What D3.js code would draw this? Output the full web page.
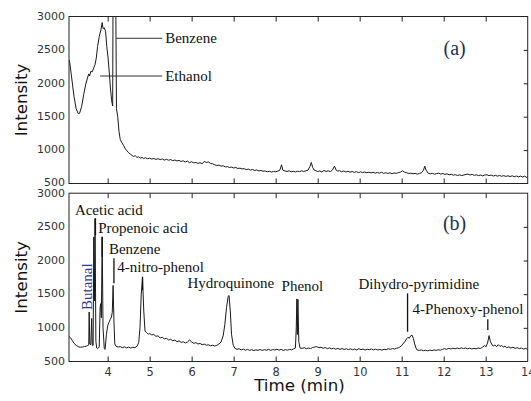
<!DOCTYPE html>
<html>
<head>
<meta charset="utf-8">
<script src="https://cdn.jsdelivr.net/npm/d3@7"></script>
<style>
  html, body { margin: 0; padding: 0; background: #fff; }
  svg { display: block; }
</style>
</head>
<body>
<script>
// ---------------- DATA ----------------
const xTicks = [4, 5, 6, 7, 8, 9, 10, 11, 12, 13, 14];
const yTicks = [500, 1000, 1500, 2000, 2500, 3000];
const rightTicks = [1000, 1500, 2000, 2500];

// Panel (a)
const timeA = [3.08,3.10,3.15,3.20,3.25,3.30,3.33,3.38,3.43,3.48,3.52,3.55,3.57,3.60,3.63,3.67,3.70,3.73,3.76,3.80,3.84,3.87,3.89,3.92,3.95,3.98,4.01,4.04,4.07,4.10,4.12,4.13,4.19,4.21,4.24,4.27,4.30,4.34,4.38,4.42,4.46,4.50,4.54,4.58,4.62,4.66,4.70,4.74,4.78,4.82,4.86,4.90,4.95,5.00,5.05,5.10,5.15,5.20,5.25,5.30,5.35,5.40,5.45,5.50,5.55,5.60,5.65,5.70,5.75,5.80,5.85,5.90,5.95,6.00,6.05,6.10,6.15,6.20,6.25,6.30,6.35,6.40,6.45,6.50,6.55,6.60,6.65,6.70,6.75,6.80,6.85,6.90,6.95,7.00,7.05,7.10,7.15,7.20,7.25,7.30,7.35,7.40,7.45,7.50,7.55,7.60,7.65,7.70,7.75,7.80,7.85,7.90,7.95,8.00,8.05,8.10,8.14,8.17,8.22,8.27,8.32,8.37,8.42,8.47,8.52,8.57,8.62,8.67,8.72,8.77,8.82,8.85,8.88,8.92,8.96,9.00,9.05,9.10,9.15,9.20,9.25,9.30,9.35,9.40,9.44,9.48,9.52,9.57,9.62,9.67,9.72,9.77,9.82,9.87,9.92,9.97,10.02,10.07,10.12,10.17,10.22,10.27,10.32,10.37,10.42,10.47,10.52,10.57,10.62,10.67,10.72,10.77,10.82,10.87,10.92,10.97,11.02,11.07,11.12,11.17,11.22,11.27,11.32,11.37,11.42,11.47,11.52,11.55,11.58,11.63,11.68,11.73,11.78,11.83,11.88,11.93,11.98,12.03,12.08,12.13,12.18,12.23,12.28,12.33,12.38,12.43,12.48,12.53,12.58,12.63,12.68,12.73,12.78,12.83,12.88,12.93,12.98,13.03,13.08,13.13,13.18,13.23,13.28,13.33,13.38,13.43,13.48,13.53,13.58,13.63,13.68,13.73,13.78,13.83,13.88,13.93,13.98,14.00];
const intensityA = [2350,2300,2050,1800,1620,1545,1550,1650,1830,1990,2080,2140,2110,2180,2170,2230,2280,2380,2550,2700,2800,2910,2820,2830,2780,2550,2380,2150,1900,1720,1660,3600,3600,1620,1500,1280,1160,1110,1070,1020,990,960,940,920,905,915,890,900,880,890,875,885,870,880,865,875,860,872,858,868,850,862,848,858,842,852,838,845,830,840,822,835,812,825,808,815,800,812,795,830,815,822,800,795,780,770,775,760,765,748,752,740,745,732,740,725,730,718,722,708,715,700,710,695,703,688,695,683,688,675,682,672,680,676,685,700,780,700,688,680,690,675,683,672,685,678,690,680,690,700,760,815,740,700,690,680,688,672,695,680,690,678,700,760,700,685,692,676,688,672,684,670,680,665,678,662,675,663,672,660,670,658,668,655,665,655,668,652,662,650,660,648,658,652,662,670,690,670,660,650,655,645,652,640,650,660,700,760,700,655,645,652,640,648,655,640,650,636,645,630,638,625,632,620,630,618,628,635,640,628,636,622,630,618,626,614,628,630,618,626,612,622,610,620,608,618,606,616,604,615,603,612,600,610,598,610,590,605];

// Panel (b)
const timeB = [3.08,3.12,3.16,3.20,3.25,3.30,3.35,3.40,3.45,3.50,3.53,3.55,3.56,3.575,3.60,3.62,3.635,3.655,3.67,3.685,3.70,3.72,3.74,3.76,3.78,3.80,3.82,3.835,3.85,3.87,3.89,3.92,3.94,3.97,4.00,4.03,4.06,4.09,4.11,4.13,4.15,4.17,4.20,4.25,4.30,4.35,4.40,4.45,4.50,4.55,4.60,4.65,4.70,4.74,4.77,4.80,4.83,4.86,4.89,4.93,4.97,5.00,5.05,5.10,5.15,5.20,5.25,5.30,5.35,5.40,5.45,5.50,5.55,5.60,5.65,5.70,5.75,5.80,5.85,5.90,5.95,6.00,6.05,6.10,6.15,6.20,6.25,6.30,6.35,6.40,6.45,6.50,6.55,6.60,6.65,6.70,6.75,6.79,6.83,6.87,6.89,6.92,6.95,6.99,7.03,7.08,7.13,7.18,7.23,7.28,7.33,7.38,7.43,7.48,7.53,7.58,7.63,7.68,7.73,7.78,7.83,7.88,7.93,7.98,8.03,8.08,8.13,8.18,8.23,8.28,8.33,8.38,8.43,8.47,8.49,8.505,8.515,8.53,8.55,8.58,8.63,8.68,8.73,8.78,8.83,8.88,8.93,8.98,9.03,9.08,9.13,9.18,9.23,9.28,9.33,9.38,9.43,9.48,9.53,9.58,9.63,9.68,9.73,9.78,9.83,9.88,9.93,9.98,10.03,10.08,10.13,10.18,10.23,10.28,10.33,10.38,10.43,10.48,10.53,10.58,10.63,10.68,10.73,10.78,10.83,10.88,10.93,10.98,11.03,11.08,11.12,11.15,11.18,11.22,11.25,11.28,11.31,11.34,11.37,11.42,11.47,11.52,11.57,11.62,11.67,11.72,11.77,11.82,11.87,11.92,11.97,12.02,12.07,12.12,12.17,12.22,12.27,12.32,12.37,12.42,12.47,12.52,12.57,12.62,12.67,12.72,12.77,12.82,12.87,12.92,12.97,13.01,13.05,13.08,13.11,13.14,13.18,13.22,13.26,13.30,13.34,13.38,13.42,13.46,13.50,13.55,13.60,13.65,13.70,13.75,13.80,13.85,13.90,13.95,14.00];
const intensityB = [870,850,810,770,740,720,712,715,722,730,740,745,1235,760,750,1140,740,740,2350,1400,2620,800,700,690,700,720,1300,1360,1150,2350,1000,690,680,900,1030,1080,1120,1160,1230,1630,1100,760,725,715,720,705,718,702,715,700,712,705,730,780,1000,1500,1740,1250,950,930,905,915,895,900,875,880,850,860,835,845,820,830,808,818,795,805,785,792,775,790,820,790,770,780,760,768,750,758,742,748,735,742,730,740,760,790,880,1050,1300,1470,1480,1250,900,740,695,680,690,672,684,668,680,665,676,662,674,666,678,664,676,668,680,666,678,670,682,668,680,665,676,668,680,672,690,700,1000,1430,900,1420,800,700,695,705,690,700,692,708,715,720,705,712,696,708,690,702,688,698,682,695,680,692,678,690,676,688,674,686,672,690,676,685,670,682,675,686,672,684,670,680,668,682,676,690,680,692,685,698,705,725,760,800,840,860,845,885,890,840,760,700,670,665,672,660,668,658,670,662,672,665,675,668,680,690,682,695,685,698,688,700,690,702,692,700,688,698,686,696,688,700,692,710,735,720,790,885,800,760,730,745,720,750,725,735,715,728,705,718,700,712,695,705,690,700,685,695,680];

// Annotations: label text, anchor time/intensity, leader line (time, from, to)
const labelNamesA = ["Benzene", "Ethanol"];
const labelTimesA = [5.37, 5.37];
const labelLevelsA = [2674, 2109];
const leaderStartA = [4.20, 3.82];
const leaderEndA = [5.30, 5.30];

const labelNamesB = ["Acetic acid", "Propenoic acid", "Benzene", "4-nitro-phenol", "Hydroquinone", "Phenol", "Dihydro-pyrimidine", "4-Phenoxy-phenol"];
const labelTimesB = [3.22, 3.776, 4.03, 4.23, 5.90, 8.14, 9.97, 11.26];
const labelLevelsB = [2676, 2404, 2097, 1833, 1587, 1547, 1572, 1200];
const leaderTimesB = [3.71, 3.87, 4.15, 4.83, null, null, 11.14, 13.05];
const leaderTopB = [2630, 2354, 2033, 1759, null, null, 1512, 1126];
const leaderBottomB = [2378, 2056, 1661, 1561, null, null, 942, 967];

const rotatedLabelB = { name: "Butanal", time: 3.62, level: 1611 };
const panelTags = ["(a)", "(b)"];
const panelTagTime = 12.26;
const panelTagLevels = [2424, 2453];

// ---------------- LAYOUT ----------------
const W = 531, H = 401;
const left = 69, right = 527.7;
const panels = [
  { top: 16.5, bottom: 183.5, time: timeA, inten: intensityA },
  { top: 193.2, bottom: 361.5, time: timeB, inten: intensityB }
];

const svg = d3.select("body").append("svg")
  .attr("width", W).attr("height", H)
  .attr("viewBox", `0 0 ${W} ${H}`);

const x = d3.scaleLinear().domain([3.08, 14]).range([left, right]);

const sans = "'DejaVu Sans', Verdana, sans-serif";
const serif = "'Liberation Serif', 'Times New Roman', serif";

panels.forEach((p, i) => {
  const y = d3.scaleLinear().domain([500, 3000]).range([p.bottom, p.top]);
  p.y = y;

  const clipId = "clip" + i;
  svg.append("clipPath").attr("id", clipId)
    .append("rect")
    .attr("x", left).attr("y", p.top)
    .attr("width", right - left).attr("height", p.bottom - p.top);

  // trace
  const line = d3.line().x((d, k) => x(p.time[k])).y((d, k) => y(d));
  svg.append("path")
    .datum(p.inten)
    .attr("clip-path", `url(#${clipId})`)
    .attr("d", line)
    .attr("fill", "none")
    .attr("stroke", "#1a1a1a")
    .attr("stroke-width", 1)
    .attr("stroke-linejoin", "round");

  // frame
  svg.append("rect")
    .attr("x", left).attr("y", p.top)
    .attr("width", right - left).attr("height", p.bottom - p.top)
    .attr("fill", "none").attr("stroke", "#222").attr("stroke-width", 1);

  // inward x ticks on top & bottom edges
  const innerX = xTicks.filter(t => t < 14);
  const bottomAxis = d3.axisBottom(x).tickValues(innerX).tickSizeInner(-5).tickSizeOuter(0).tickFormat("");
  const topAxis = d3.axisTop(x).tickValues(innerX).tickSizeInner(-5).tickSizeOuter(0).tickFormat("");
  const gb = svg.append("g").attr("transform", `translate(0,${p.bottom})`).call(bottomAxis);
  const gt = svg.append("g").attr("transform", `translate(0,${p.top})`).call(topAxis);
  [gb, gt].forEach(g => { g.select(".domain").remove(); g.selectAll("line").attr("stroke", "#222"); });

  // right inward ticks
  const ra = d3.axisRight(y).tickValues(rightTicks).tickSizeInner(-4).tickSizeOuter(0).tickFormat("");
  const gr = svg.append("g").attr("transform", `translate(${right},0)`).call(ra);
  gr.select(".domain").remove();
  gr.selectAll("line").attr("stroke", "#222");

  // left labels
  const la = d3.axisLeft(y).tickValues(yTicks).tickSize(0).tickPadding(4).tickFormat(d3.format("d"));
  const gl = svg.append("g").attr("transform", `translate(${left},0)`).call(la);
  gl.select(".domain").remove();
  gl.selectAll("text")
    .attr("font-family", sans).attr("font-size", 11).attr("fill", "#333")
    .attr("dy", d => (i === 0 && d === 500) ? "0.15em" : (i === 1 && d === 3000 ? "0.3em" : "0.25em"));

  // y title
  svg.append("text")
    .attr("transform", `translate(27,${(p.top + p.bottom) / 2}) rotate(-90)`)
    .attr("text-anchor", "middle")
    .attr("font-family", sans).attr("font-size", 16.7).attr("fill", "#111")
    .text("Intensity");

  // panel tag
  svg.append("text")
    .attr("x", x(panelTagTime)).attr("y", y(panelTagLevels[i]))
    .attr("text-anchor", "middle")
    .attr("font-family", serif).attr("font-size", 20).attr("fill", "#22304f")
    .text(panelTags[i]);
});

// bottom x labels
const xa = d3.axisBottom(x).tickValues(xTicks).tickSize(0).tickPadding(0).tickFormat(d3.format("d"));
const gx = svg.append("g").attr("transform", `translate(0,${panels[1].bottom})`).call(xa);
gx.select(".domain").remove();
gx.selectAll("text").attr("font-family", sans).attr("font-size", 11.4).attr("fill", "#333")
  .attr("y", 0).attr("dy", 0).attr("transform", "translate(0,14.5)");

svg.append("text")
  .attr("x", 299.5).attr("y", 390.5)
  .attr("text-anchor", "middle")
  .attr("font-family", sans).attr("font-size", 16.7).attr("fill", "#111")
  .text("Time (min)");

// annotations panel (a)
const yA = panels[0].y;
labelNamesA.forEach((name, k) => {
  svg.append("line")
    .attr("x1", x(leaderStartA[k])).attr("x2", x(leaderEndA[k]))
    .attr("y1", yA(labelLevelsA[k])).attr("y2", yA(labelLevelsA[k]))
    .attr("stroke", "#333").attr("stroke-width", 1);
  svg.append("text")
    .attr("x", x(labelTimesA[k])).attr("y", yA(labelLevelsA[k]))
    .attr("dy", "0.33em")
    .attr("font-family", serif).attr("font-size", 15).attr("fill", "#111")
    .text(name);
});

// annotations panel (b)
const yB = panels[1].y;
labelNamesB.forEach((name, k) => {
  if (leaderTimesB[k] !== null) {
    svg.append("line")
      .attr("x1", x(leaderTimesB[k])).attr("x2", x(leaderTimesB[k]))
      .attr("y1", yB(leaderTopB[k])).attr("y2", yB(leaderBottomB[k]))
      .attr("stroke", "#111").attr("stroke-width", 1.3);
  }
  svg.append("text")
    .attr("x", x(labelTimesB[k])).attr("y", yB(labelLevelsB[k]))
    .attr("font-family", serif).attr("font-size", 15).attr("fill", "#111")
    .text(name);
});

svg.append("text")
  .attr("transform", `translate(${x(rotatedLabelB.time)},${yB(rotatedLabelB.level)}) rotate(-90)`)
  .attr("text-anchor", "middle")
  .attr("font-family", serif).attr("font-size", 15).attr("fill", "#2b3d8c")
  .text(rotatedLabelB.name);
</script>
</body>
</html>
